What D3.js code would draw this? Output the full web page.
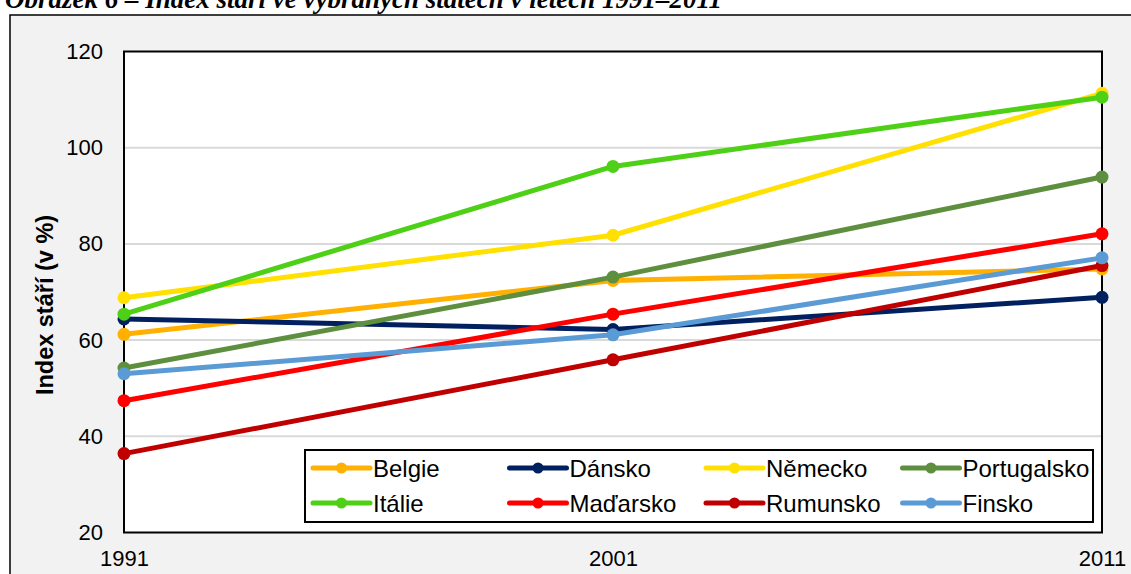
<!DOCTYPE html>
<html><head><meta charset="utf-8">
<script src="https://cdn.jsdelivr.net/npm/d3@7"></script>
<style>
html,body{margin:0;padding:0;background:#fff;overflow:hidden}
</style></head>
<body><svg id="c" width="1131" height="574"></svg>
<script>
const years = [1991, 2001, 2011];
const countries = ["Belgie","Dánsko","Německo","Portugalsko","Itálie","Maďarsko","Rumunsko","Finsko"];
const belgie = [61.2, 72.4, 74.8];
const dansko = [64.4, 62.2, 68.9];
const nemecko = [68.8, 81.8, 111.3];
const portugalsko = [54.2, 73.1, 93.9];
const italie = [65.4, 96.1, 110.5];
const madarsko = [47.4, 65.4, 82.1];
const rumunsko = [36.4, 55.9, 75.5];
const finsko = [53.0, 61.1, 77.1];
const seriesValues = [belgie, dansko, nemecko, portugalsko, italie, madarsko, rumunsko, finsko];
const colors = ["#FFB000","#002060","#FFE000","#5E8F3E","#4ED016","#FF0000","#C00000","#5B9BD5"];
const yTicks = [20, 40, 60, 80, 100, 120];
const xTickLabels = ["1991","2001","2011"];
const title = "Obrázek 6 – Index stáří ve vybraných státech v letech 1991–2011";
const yTitle = "Index stáří (v %)";

const svg = d3.select("#c");
const L = 124, R = 1102, T = 51.5, B = 532.5;
const x = d3.scaleLinear().domain([1991, 2011]).range([L, R]);
const y = d3.scaleLinear().domain([20, 120]).range([B, T]);

// outer area
svg.append("rect").attr("x",10).attr("y",15).attr("width",1140).attr("height",580)
  .attr("fill","#f2f2f2").attr("stroke","#000").attr("stroke-width",1.5);
// title (cut at top edge as in the reference)
svg.append("text").attr("x",5).attr("y",8).text(title)
  .attr("font-family","'Liberation Serif','Times New Roman',serif")
  .attr("font-weight","bold").attr("font-style","italic").attr("font-size",27).attr("fill","#000");

// plot area
svg.append("rect").attr("x",L).attr("y",T).attr("width",R-L).attr("height",B-T).attr("fill","#fff");
// gridlines
svg.append("g").selectAll("line").data(yTicks.filter(d=>d>20 && d<120)).join("line")
  .attr("x1",L).attr("x2",R).attr("y1",d=>y(d)).attr("y2",d=>y(d))
  .attr("stroke","#d9d9d9").attr("stroke-width",2);
svg.append("rect").attr("x",L).attr("y",T).attr("width",R-L).attr("height",B-T)
  .attr("fill","none").attr("stroke","#000").attr("stroke-width",2);

// axes
const yAxis = d3.axisLeft(y).tickValues(yTicks).tickSize(0).tickPadding(21);
const gy = svg.append("g").attr("transform",`translate(${L},0)`).call(yAxis);
gy.select(".domain").remove();
gy.selectAll("text").attr("font-family","'Liberation Sans',Arial,sans-serif").attr("font-size",22).attr("fill","#000");

const xAxis = d3.axisBottom(x).tickValues(years).tickFormat((d,i)=>xTickLabels[i]).tickSize(0).tickPadding(18);
const gx = svg.append("g").attr("transform",`translate(0,${B})`).call(xAxis);
gx.select(".domain").remove();
gx.selectAll("text").attr("font-family","'Liberation Sans',Arial,sans-serif").attr("font-size",22).attr("fill","#000");

svg.append("text").attr("transform",`translate(53,305) rotate(-90)`).attr("text-anchor","middle")
  .attr("font-family","'Liberation Sans',Arial,sans-serif").attr("font-weight","bold").attr("font-size",23.5)
  .text(yTitle);

// lines
const line = d3.line().x((d,i)=>x(years[i])).y(d=>y(d));
const gS = svg.append("g");
seriesValues.forEach((vals, k) => {
  const g = gS.append("g");
  g.append("path").datum(vals).attr("d", line).attr("fill","none")
    .attr("stroke", colors[k]).attr("stroke-width",5).attr("stroke-linejoin","round");
  g.selectAll("circle").data(vals).join("circle")
    .attr("cx",(d,i)=>x(years[i])).attr("cy",d=>y(d)).attr("r",6.5).attr("fill",colors[k]);
});

// legend
const lg = svg.append("g");
lg.append("rect").attr("x",305).attr("y",450).attr("width",788).attr("height",72)
  .attr("fill","#fff").attr("stroke","#000").attr("stroke-width",2);
countries.forEach((c,k)=>{
  const col = k % 4, row = Math.floor(k/4);
  const lx = 313 + col*196.5, ly = 468 + row*35;
  lg.append("line").attr("x1",lx).attr("x2",lx+57).attr("y1",ly).attr("y2",ly)
    .attr("stroke",colors[k]).attr("stroke-width",5).attr("stroke-linecap","round");
  lg.append("circle").attr("cx",lx+28.5).attr("cy",ly).attr("r",5.5).attr("fill",colors[k]);
  lg.append("text").attr("x",lx+60).attr("y",ly+8.5).text(c)
    .attr("font-family","'Liberation Sans',Arial,sans-serif").attr("font-size",24).attr("fill","#000");
});
</script></body></html>
